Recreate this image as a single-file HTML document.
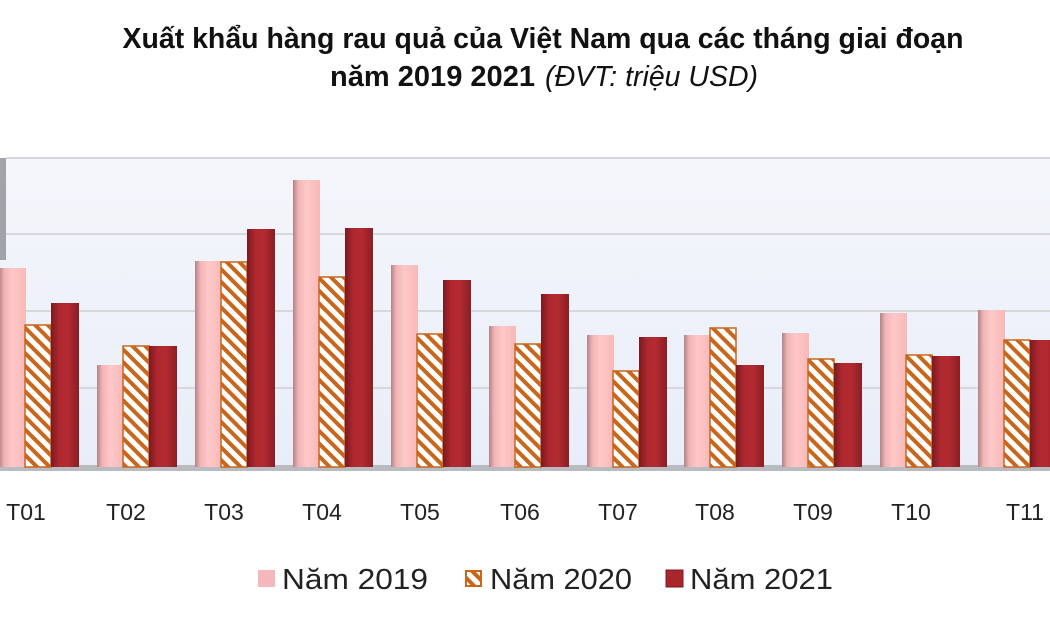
<!DOCTYPE html>
<html><head><meta charset="utf-8"><style>
html,body{margin:0;padding:0;background:#fff;}
svg{display:block;}
</style></head><body>
<svg width="1050" height="630" viewBox="0 0 1050 630" xmlns="http://www.w3.org/2000/svg">
<defs>
<linearGradient id="bg" x1="0" y1="0" x2="0" y2="1"><stop offset="0" stop-color="#f4f6fb"/><stop offset="1" stop-color="#e8edf8"/></linearGradient>
<linearGradient id="pk" x1="0" y1="0" x2="1" y2="0"><stop offset="0" stop-color="#b08488"/><stop offset="0.2" stop-color="#f2b4b6"/><stop offset="0.5" stop-color="#ffc8c8"/><stop offset="1" stop-color="#f7b8b8"/></linearGradient>
<linearGradient id="rd" x1="0" y1="0" x2="1" y2="0"><stop offset="0" stop-color="#7a1a20"/><stop offset="0.3" stop-color="#b0282f"/><stop offset="0.6" stop-color="#b32a31"/><stop offset="1" stop-color="#8a1e24"/></linearGradient>
<pattern id="ht" patternUnits="userSpaceOnUse" width="9" height="9" patternTransform="rotate(-45)">
<rect width="9" height="9" fill="#fff"/><rect width="4" height="9" fill="#c8661c"/></pattern>
</defs>
<text x="543" y="48" text-anchor="middle" font-family="Liberation Sans, sans-serif" font-weight="bold" font-size="29" textLength="841" lengthAdjust="spacingAndGlyphs" fill="#111">Xuất khẩu hàng rau quả của Việt Nam qua các tháng giai đoạn</text>
<text x="330" y="86" font-family="Liberation Sans, sans-serif" font-weight="bold" font-size="29" textLength="205" lengthAdjust="spacingAndGlyphs" fill="#111">năm 2019 2021</text>
<text x="545" y="86" font-family="Liberation Sans, sans-serif" font-style="italic" font-size="29" textLength="213" lengthAdjust="spacingAndGlyphs" fill="#111">(ĐVT: triệu USD)</text>
<rect x="0" y="158" width="1050" height="310" fill="url(#bg)"/>
<rect x="0" y="158" width="6" height="102" fill="#a0a3a8"/>
<g stroke="#d6d8dc" stroke-width="2">
<line x1="6" y1="158" x2="1050" y2="158"/><line x1="6" y1="234" x2="1050" y2="234"/><line x1="6" y1="311" x2="1050" y2="311"/><line x1="6" y1="388" x2="1050" y2="388"/></g>
<rect x="0" y="465" width="1050" height="6" fill="#b8bbc0"/>
<g fill="url(#pk)">
<rect x="-1" y="268" width="27" height="199"/>
<rect x="97" y="365" width="27" height="102"/>
<rect x="195" y="261" width="27" height="206"/>
<rect x="293" y="180" width="27" height="287"/>
<rect x="391" y="265" width="27" height="202"/>
<rect x="489" y="326" width="27" height="141"/>
<rect x="587" y="335" width="27" height="132"/>
<rect x="684" y="335" width="27" height="132"/>
<rect x="782" y="333" width="27" height="134"/>
<rect x="880" y="313" width="27" height="154"/>
<rect x="978" y="310" width="27" height="157"/>
</g>
<g fill="url(#ht)" stroke="#c8661c" stroke-width="1.5">
<rect x="25" y="325" width="26" height="142"/>
<rect x="123" y="346" width="26" height="121"/>
<rect x="221" y="262" width="26" height="205"/>
<rect x="319" y="277" width="26" height="190"/>
<rect x="417" y="334" width="26" height="133"/>
<rect x="515" y="344" width="26" height="123"/>
<rect x="613" y="371" width="26" height="96"/>
<rect x="710" y="328" width="26" height="139"/>
<rect x="808" y="359" width="26" height="108"/>
<rect x="906" y="355" width="26" height="112"/>
<rect x="1004" y="340" width="26" height="127"/>
</g>
<g fill="url(#rd)">
<rect x="51" y="303" width="28" height="164"/>
<rect x="149" y="346" width="28" height="121"/>
<rect x="247" y="229" width="28" height="238"/>
<rect x="345" y="228" width="28" height="239"/>
<rect x="443" y="280" width="28" height="187"/>
<rect x="541" y="294" width="28" height="173"/>
<rect x="639" y="337" width="28" height="130"/>
<rect x="736" y="365" width="28" height="102"/>
<rect x="834" y="363" width="28" height="104"/>
<rect x="932" y="356" width="28" height="111"/>
<rect x="1030" y="340" width="28" height="127"/>
</g>
<g font-family="Liberation Sans, sans-serif" font-size="23" fill="#222" text-anchor="middle">
<text x="26" y="520">T01</text><text x="126" y="520">T02</text><text x="224" y="520">T03</text><text x="322" y="520">T04</text><text x="420" y="520">T05</text><text x="520" y="520">T06</text><text x="618" y="520">T07</text><text x="715" y="520">T08</text><text x="813" y="520">T09</text><text x="911" y="520">T10</text><text x="1025" y="520">T11</text>
</g>
<rect x="258" y="570" width="17" height="17" fill="#f4b8ba"/>
<rect x="466" y="571" width="15" height="15" fill="url(#ht)" stroke="#c8661c" stroke-width="2"/>
<rect x="666" y="570" width="17" height="17" fill="#a8262c" stroke="#7a1a20" stroke-width="1"/>
<g font-family="Liberation Sans, sans-serif" font-size="29" fill="#222">
<text x="282" y="589" textLength="146" lengthAdjust="spacingAndGlyphs">Năm 2019</text>
<text x="490" y="589" textLength="142" lengthAdjust="spacingAndGlyphs">Năm 2020</text>
<text x="690" y="589" textLength="143" lengthAdjust="spacingAndGlyphs">Năm 2021</text>
</g>
</svg>
</body></html>
